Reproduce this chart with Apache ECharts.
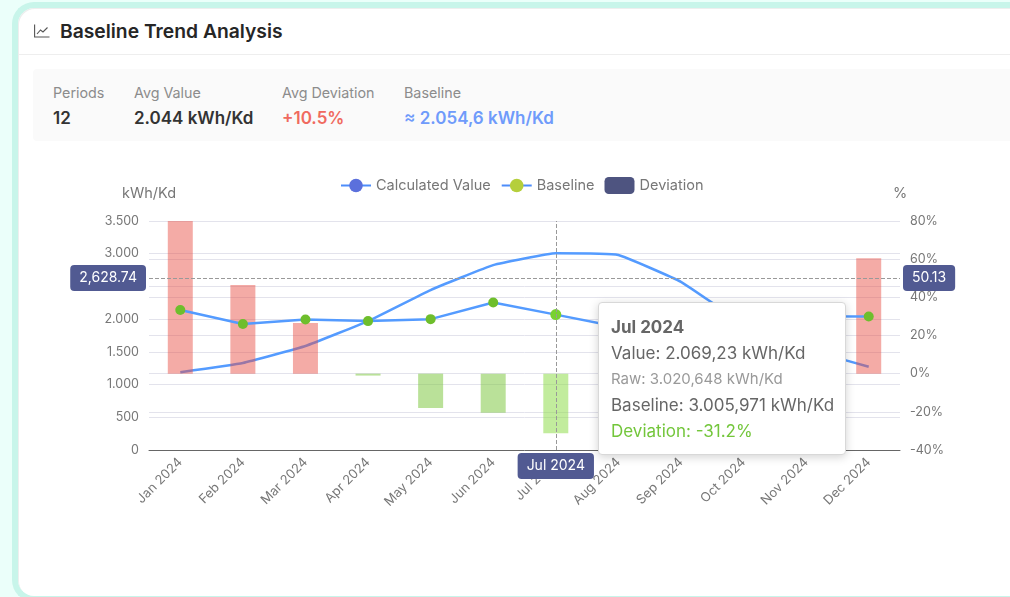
<!DOCTYPE html>
<html>
<head>
<meta charset="utf-8">
<script src="https://cdn.jsdelivr.net/npm/echarts@6/dist/echarts.min.js"></script>
<style>
html,body{margin:0;padding:0;width:1010px;height:597px;overflow:hidden;background:#EBFFFA;font-family:Inter,"Noto Sans",sans-serif;}
#card{position:absolute;left:12px;top:2px;width:1040px;height:600px;box-sizing:border-box;background:#fff;border:6px solid #C8F5EA;border-right:none;border-radius:22px;box-shadow:inset 1px 1px 0 #EEE;}
#head{position:absolute;left:18px;top:54px;width:992px;height:1px;background:#EEEEEE;}
#icon{position:absolute;left:34px;top:24px;}
#title{position:absolute;left:60px;top:20px;font-size:19.3px;line-height:22px;font-weight:600;color:#262626;}
#stats{position:absolute;left:33px;top:69px;width:1000px;height:72px;background:#FAFAFA;border-radius:4px;}
.s{position:absolute;white-space:nowrap;}
.l{top:84px;font-size:14.3px;line-height:17px;color:#8C8C8C;}
.v{top:108px;font-size:17px;line-height:20px;font-weight:600;color:#333;}
#chart{position:absolute;left:0;top:0;width:1010px;height:597px;}
</style>
</head>
<body>
<div id="card"></div>
<div id="head"></div>
<svg id="icon" width="16" height="14" viewBox="0 0 16 14" fill="none" stroke="#555" stroke-width="1.1"><path d="M0.6 0.5V13H15.5"/><path d="M3 10L6.5 6L9 8L13.5 3.5"/></svg>
<div id="title">Baseline Trend Analysis</div>
<div id="stats"></div>
<div class="s l" style="left:53px">Periods</div><div class="s v" style="left:53px">12</div>
<div class="s l" style="left:134px">Avg Value</div><div class="s v" style="left:134px">2.044 kWh/Kd</div>
<div class="s l" style="left:282px">Avg Deviation</div><div class="s v" style="left:282px;color:#F06A5F">+10.5%</div>
<div class="s l" style="left:404px">Baseline</div><div class="s v" style="left:404px;color:#6F9BFB">≈ 2.054,6 kWh/Kd</div>
<div id="chart"></div>
<script>
var categories = ['Jan 2024','Feb 2024','Mar 2024','Apr 2024','May 2024','Jun 2024','Jul 2024','Aug 2024','Sep 2024','Oct 2024','Nov 2024','Dec 2024'];
var calculatedValue = [2140,1925,1995,1970,2000,2255,2069.23,1880,1930,2180,2045,2040];
var baselineValue = [1190,1330,1590,1970,2445,2825,3005.971,2980,2570,1930,1546,1273];
var deviationPct = [80,46.4,26.5,-1,-18,-20.5,-31.2,-37,-25,13,32,60.5];
var leftTicks = {interval:500,min:0,max:3500};
var rightTicks = {interval:20,min:-40,max:80};

function thousand(v){return String(v).replace(/\B(?=(\d{3})+$)/g,'.');}
function tipHtml(){
  return '<div style="font-size:17px;line-height:26px;color:#666;padding-top:2px;">'+
    '<div style="font-weight:700;">Jul 2024</div>'+
    '<div>Value: 2.069,23 kWh/Kd</div>'+
    '<div style="font-size:15px;color:#999;">Raw: 3.020,648 kWh/Kd</div>'+
    '<div>Baseline: 3.005,971 kWh/Kd</div>'+
    '<div style="color:#73C63B;">Deviation: -31.2%</div></div>';
}
var chart = echarts.init(document.getElementById('chart'),null,{renderer:'canvas'});
var font = 'Inter';
var pointerLabel = {backgroundColor:'#515A92',color:'#fff',fontFamily:font,fontSize:14,borderRadius:4,padding:[6,9]};
chart.setOption({
  animation:false,
  textStyle:{fontFamily:font},
  grid:{left:149,right:110,top:221,bottom:147,containLabel:false},
  legend:{
    left:335,top:172,itemWidth:30,itemHeight:17,itemGap:10,
    textStyle:{color:'#777',fontSize:14.5,fontFamily:font},
    data:[
      {name:'Calculated Value',itemStyle:{color:'#5B70DC'}},
      {name:'Baseline',itemStyle:{color:'#B5CF3C'}},
      {name:'Deviation',itemStyle:{color:'#4E5480',borderRadius:3}}
    ]
  },
  tooltip:{
    trigger:'axis',alwaysShowContent:true,
    axisPointer:{type:'cross',lineStyle:{color:'#999',type:'dashed'},crossStyle:{color:'#999',type:'dashed'},label:pointerLabel},
    position:[598,302],
    backgroundColor:'#fff',borderColor:'#D8D8D8',borderWidth:1,padding:[9,12],
    extraCssText:'box-shadow:0 2px 10px rgba(0,0,0,.18);border-radius:4px;width:248px;height:153px;box-sizing:border-box;',
    formatter:tipHtml
  },
  xAxis:{
    type:'category',data:categories,
    axisLine:{onZero:false,lineStyle:{color:'#666'}},axisTick:{show:false},
    axisLabel:{rotate:45,color:'#777',fontSize:13,interval:0,margin:10,fontFamily:font},
    axisPointer:{label:pointerLabel}
  },
  yAxis:[
    {type:'value',name:'kWh/Kd',nameGap:20,nameTextStyle:{color:'#777',fontSize:14.5},
     min:leftTicks.min,max:leftTicks.max,interval:leftTicks.interval,
     axisLine:{show:false},axisTick:{show:false},
     axisLabel:{color:'#777',fontSize:12.5,margin:10,formatter:thousand},
     splitLine:{lineStyle:{color:'#E3E3EC'}},
     axisPointer:{label:Object.assign({precision:2},pointerLabel)}},
    {type:'value',name:'%',nameGap:20,nameTextStyle:{color:'#777',fontSize:14.5},
     min:rightTicks.min,max:rightTicks.max,interval:rightTicks.interval,
     axisLine:{show:false},axisTick:{show:false},
     axisLabel:{color:'#777',fontSize:12.5,margin:10,formatter:'{value}%'},
     splitLine:{lineStyle:{color:'#E3E3EC'}},
     axisPointer:{label:Object.assign({precision:2},pointerLabel)}}
  ],
  series:[
    {name:'Baseline',type:'line',yAxisIndex:0,data:baselineValue,smooth:0.1,showSymbol:false,symbol:'none',z:1,
     lineStyle:{color:'#4D8DFA',width:2.5},itemStyle:{color:'#B5CF3C'}},
    {name:'Deviation',type:'bar',yAxisIndex:1,data:deviationPct,barWidth:25,z:2,
     itemStyle:{color:function(p){return p.value>=0?'rgba(231,76,66,.47)':'rgba(130,200,70,.55)';}}},
    {name:'Calculated Value',type:'line',yAxisIndex:0,data:calculatedValue,symbol:'circle',symbolSize:10,z:3,
     lineStyle:{color:'#4D8DFA',width:2.5},itemStyle:{color:'#6EBE2C'}}
  ]
});
chart.dispatchAction({type:'showTip',x:555.5,y:278.005});
</script>
</body>
</html>
